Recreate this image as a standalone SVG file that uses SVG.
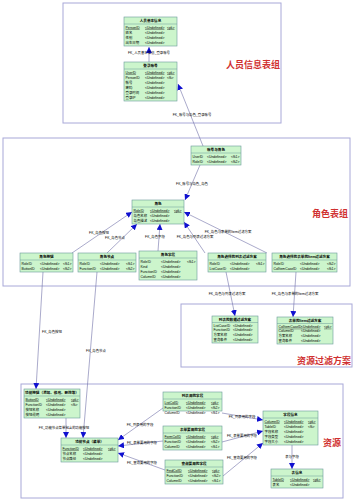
<svg xmlns="http://www.w3.org/2000/svg" width="357" height="500" viewBox="0 0 357 500">
<defs>
<style>
.frame{fill:#fff;stroke:#a8a8d8;stroke-width:1}
.box{fill:#ccf5cc;stroke:#6a9a9a;stroke-width:0.6}
.sep{stroke:#6a9a9a;stroke-width:0.5}
.t{font-family:"Liberation Sans","Noto Sans CJK SC",sans-serif;font-size:3.4px;fill:#000}
.h{font-family:"Liberation Sans","Noto Sans CJK SC",sans-serif;font-size:3.6px;font-weight:bold;fill:#000;text-anchor:middle}
.pk{text-decoration:underline}
.lbl{font-family:"Liberation Sans","Noto Sans CJK SC",sans-serif;font-size:3.4px;fill:#000;text-anchor:middle}
.grp{font-family:"Noto Sans CJK SC",sans-serif;font-size:9px;font-weight:bold;fill:#d03030}
.ln{stroke:#7070a8;stroke-width:0.6;fill:none;marker-end:url(#arr)}
</style>
<marker id="arr" viewBox="0 0 10 10" refX="10" refY="5" markerWidth="6" markerHeight="6" markerUnits="userSpaceOnUse" orient="auto">
<path d="M0,0 L10,5 L0,10 z" fill="#1010d0"/>
</marker>
</defs>
<rect width="357" height="500" fill="#fff"/>
<g id="frames">
<rect class="frame" x="63" y="3" width="218" height="120"/>
<rect class="frame" x="3" y="138" width="347" height="148"/>
<rect class="frame" x="181" y="304" width="171" height="63"/>
<rect class="frame" x="21" y="384" width="322" height="114"/>
<text class="grp" x="226" y="68">人员信息表组</text>
<text class="grp" x="312" y="217">角色表组</text>
<text class="grp" x="297" y="364">资源过滤方案</text>
<text class="grp" x="323" y="446">资源</text>
</g>
<g id="connectors">
<line class="ln" x1="149" y1="62" x2="149" y2="47"/>
<line class="ln" x1="203" y1="146" x2="178" y2="84"/>
<line class="ln" x1="200" y1="165" x2="185" y2="200"/>
<line class="ln" x1="72" y1="253" x2="132" y2="212"/>
<line class="ln" x1="107" y1="253" x2="137" y2="224"/>
<line class="ln" x1="158" y1="251" x2="160" y2="224"/>
<line class="ln" x1="205" y1="253" x2="184" y2="222"/>
<line class="ln" x1="267" y1="253" x2="184" y2="212"/>
<line class="ln" x1="43" y1="272" x2="36" y2="389"/>
<line class="ln" x1="97" y1="272" x2="83" y2="438"/>
<line class="ln" x1="226" y1="272" x2="235" y2="316"/>
<line class="ln" x1="296" y1="272" x2="293" y2="317"/>
<line class="ln" x1="66" y1="418" x2="66" y2="438"/>
<line class="ln" x1="163" y1="408" x2="118" y2="440"/>
<line class="ln" x1="163" y1="441" x2="118" y2="446"/>
<line class="ln" x1="165" y1="470" x2="118" y2="453"/>
<line class="ln" x1="222" y1="413" x2="263" y2="420"/>
<line class="ln" x1="222" y1="442" x2="263" y2="431"/>
<line class="ln" x1="223" y1="476" x2="263" y2="443"/>
<line class="ln" x1="292" y1="445" x2="292" y2="469"/>
<text class="lbl" x="149" y="54">FK_人员基本信息_登录账号</text>
<text class="lbl" x="192" y="116">FK_账号与角色_登录账号</text>
<text class="lbl" x="192" y="185">FK_账号与角色_角色</text>
<text class="lbl" x="99" y="234">FK_角色按钮</text>
<text class="lbl" x="115" y="239">FK_角色节点</text>
<text class="lbl" x="155" y="238">FK_角色字段</text>
<text class="lbl" x="195" y="238">FK_角色与列表过滤方案</text>
<text class="lbl" x="228" y="233">FK_角色与表单的Item过滤方案</text>
<text class="lbl" x="52" y="333">FK_角色按钮</text>
<text class="lbl" x="96" y="352">FK_角色节点</text>
<text class="lbl" x="227" y="295">FK_角色与列表过滤方案</text>
<text class="lbl" x="295" y="295">FK_角色与表单的Item过滤方案</text>
<text class="lbl" x="64" y="429">FK_功能节点菜单包含的功能按钮</text>
<text class="lbl" x="140" y="426">FK_列表用的字段</text>
<text class="lbl" x="142" y="444">FK_表单要用的字段</text>
<text class="lbl" x="142" y="464">FK_查询要用的字段</text>
<text class="lbl" x="242" y="418">FK_列表用的字段</text>
<text class="lbl" x="242" y="437">FK_表单要用的字段</text>
<text class="lbl" x="242" y="459">FK_查询要用的字段</text>
<text class="lbl" x="292" y="458">表与字段</text>
</g>
<g id="n-person">
<rect class="box" x="124" y="17" width="53" height="29"/><line class="sep" x1="124" y1="24" x2="177" y2="24"/>
<text class="h" x="150.5" y="22.3">人员基本信息</text>
<text class="t pk" x="125.5" y="28.5">PersonID</text><text class="t pk" x="145" y="28.5">&lt;Undefined&gt;</text><text class="t pk" x="167" y="28.5">&lt;pk&gt;</text>
<text class="t" x="125.5" y="33.5">姓名</text><text class="t" x="145" y="33.5">&lt;Undefined&gt;</text>
<text class="t" x="125.5" y="38.5">性别</text><text class="t" x="145" y="38.5">&lt;Undefined&gt;</text>
<text class="t" x="125.5" y="43.5">出生日期</text><text class="t" x="145" y="43.5">&lt;Undefined&gt;</text>
</g>
<g id="n-login">
<rect class="box" x="124" y="62" width="53" height="39"/><line class="sep" x1="124" y1="69" x2="177" y2="69"/>
<text class="h" x="150.5" y="67.3">登录账号</text>
<text class="t pk" x="125.5" y="73.5">UserID</text><text class="t pk" x="145" y="73.5">&lt;Undefined&gt;</text><text class="t pk" x="167" y="73.5">&lt;pk&gt;</text>
<text class="t" x="125.5" y="78.5">PersonID</text><text class="t" x="145" y="78.5">&lt;Undefined&gt;</text><text class="t" x="167" y="78.5">&lt;fk&gt;</text>
<text class="t" x="125.5" y="83.5">帐号</text><text class="t" x="145" y="83.5">&lt;Undefined&gt;</text>
<text class="t" x="125.5" y="88.5">密码</text><text class="t" x="145" y="88.5">&lt;Undefined&gt;</text>
<text class="t" x="125.5" y="93.5">登录时间</text><text class="t" x="145" y="93.5">&lt;Undefined&gt;</text>
<text class="t" x="125.5" y="98.5">登录IP</text><text class="t" x="145" y="98.5">&lt;Undefined&gt;</text>
</g>
<g id="n-userrole">
<rect class="box" x="191" y="146" width="50" height="19"/><line class="sep" x1="191" y1="153" x2="241" y2="153"/>
<text class="h" x="216" y="151.3">账号与角色</text>
<text class="t" x="192.5" y="157.5">UserID</text><text class="t" x="207" y="157.5">&lt;Undefined&gt;</text><text class="t" x="231" y="157.5">&lt;fk1&gt;</text>
<text class="t" x="192.5" y="162.5">RoleID</text><text class="t" x="207" y="162.5">&lt;Undefined&gt;</text><text class="t" x="231" y="162.5">&lt;fk2&gt;</text>
</g>
<g id="n-role">
<rect class="box" x="132" y="200" width="52" height="24"/><line class="sep" x1="132" y1="207" x2="184" y2="207"/>
<text class="h" x="158" y="205.3">角色</text>
<text class="t pk" x="133.5" y="211.5">RoleID</text><text class="t pk" x="150" y="211.5">&lt;Undefined&gt;</text><text class="t pk" x="174" y="211.5">&lt;pk&gt;</text>
<text class="t" x="133.5" y="216.5">角色名称</text><text class="t" x="150" y="216.5">&lt;Undefined&gt;</text>
<text class="t" x="133.5" y="221.5">角色描述</text><text class="t" x="150" y="221.5">&lt;Undefined&gt;</text>
</g>
<g id="n-rolebutton">
<rect class="box" x="20" y="253" width="53" height="19"/><line class="sep" x1="20" y1="260" x2="73" y2="260"/>
<text class="h" x="46.5" y="258.3">角色按钮</text>
<text class="t" x="21.5" y="264.5">RoleID</text><text class="t" x="40" y="264.5">&lt;Undefined&gt;</text><text class="t" x="63" y="264.5">&lt;fk1&gt;</text>
<text class="t" x="21.5" y="269.5">ButtonID</text><text class="t" x="40" y="269.5">&lt;Undefined&gt;</text><text class="t" x="63" y="269.5">&lt;fk2&gt;</text>
</g>
<g id="n-rolenode">
<rect class="box" x="78" y="253" width="58" height="19"/><line class="sep" x1="78" y1="260" x2="136" y2="260"/>
<text class="h" x="107" y="258.3">角色节点</text>
<text class="t" x="79.5" y="264.5">RoleID</text><text class="t" x="100" y="264.5">&lt;Undefined&gt;</text><text class="t" x="126" y="264.5">&lt;fk1&gt;</text>
<text class="t" x="79.5" y="269.5">FunctionID</text><text class="t" x="100" y="269.5">&lt;Undefined&gt;</text><text class="t" x="126" y="269.5">&lt;fk2&gt;</text>
</g>
<g id="n-rolefield">
<rect class="box" x="139" y="251" width="58" height="29"/><line class="sep" x1="139" y1="258" x2="197" y2="258"/>
<text class="h" x="168" y="256.3">角色字段</text>
<text class="t" x="140.5" y="262.5">RoleID</text><text class="t" x="161" y="262.5">&lt;Undefined&gt;</text><text class="t" x="187" y="262.5">&lt;fk1&gt;</text>
<text class="t" x="140.5" y="267.5">Kind</text><text class="t" x="161" y="267.5">&lt;Undefined&gt;</text>
<text class="t" x="140.5" y="272.5">FunctionID</text><text class="t" x="161" y="272.5">&lt;Undefined&gt;</text>
<text class="t" x="140.5" y="277.5">ColumnID</text><text class="t" x="161" y="277.5">&lt;Undefined&gt;</text>
</g>
<g id="n-rolelistcase">
<rect class="box" x="208" y="253" width="58" height="19"/><line class="sep" x1="208" y1="260" x2="266" y2="260"/>
<text class="h" x="237" y="258.3">角色选择的列表过滤方案</text>
<text class="t" x="209.5" y="264.5">RoleID</text><text class="t" x="230" y="264.5">&lt;Undefined&gt;</text><text class="t" x="256" y="264.5">&lt;fk1&gt;</text>
<text class="t" x="209.5" y="269.5">ListCaseID</text><text class="t" x="230" y="269.5">&lt;Undefined&gt;</text>
</g>
<g id="n-roleitemcase">
<rect class="box" x="272" y="253" width="65" height="19"/><line class="sep" x1="272" y1="260" x2="337" y2="260"/>
<text class="h" x="304.5" y="258.3">角色选择的表单的Item过滤方案</text>
<text class="t" x="273.5" y="264.5">RoleID</text><text class="t" x="300" y="264.5">&lt;Undefined&gt;</text><text class="t" x="327" y="264.5">&lt;fk2&gt;</text>
<text class="t" x="273.5" y="269.5">ColItemCaseID</text><text class="t" x="300" y="269.5">&lt;Undefined&gt;</text><text class="t" x="327" y="269.5">&lt;fk1&gt;</text>
</g>
<g id="n-listcase">
<rect class="box" x="212" y="316" width="46" height="27"/><line class="sep" x1="212" y1="322.5" x2="258" y2="322.5"/>
<text class="h" x="235" y="321">列表的数据过滤方案</text>
<text class="t" x="213.5" y="326.8">ListCaseID</text><text class="t" x="233" y="326.8">&lt;Undefined&gt;</text>
<text class="t" x="213.5" y="331.4">FunctionID</text><text class="t" x="233" y="331.4">&lt;Undefined&gt;</text>
<text class="t" x="213.5" y="336">方案名称</text><text class="t" x="233" y="336">&lt;Undefined&gt;</text>
<text class="t" x="213.5" y="340.6">查询条件</text><text class="t" x="233" y="340.6">&lt;Undefined&gt;</text>
</g>
<g id="n-itemcase">
<rect class="box" x="277" y="317" width="56" height="27"/><line class="sep" x1="277" y1="323.5" x2="333" y2="323.5"/>
<text class="h" x="305" y="322">表单的Item过滤方案</text>
<text class="t pk" x="278.5" y="327.8">ColItemCaseID</text><text class="t pk" x="301" y="327.8">&lt;Undefined&gt;</text><text class="t pk" x="324" y="327.8">&lt;pk&gt;</text>
<text class="t" x="278.5" y="332.4">ColumnID</text><text class="t" x="301" y="332.4">&lt;Undefined&gt;</text>
<text class="t" x="278.5" y="337">方案名称</text><text class="t" x="301" y="337">&lt;Undefined&gt;</text>
<text class="t" x="278.5" y="341.6">查询条件</text><text class="t" x="301" y="341.6">&lt;Undefined&gt;</text>
</g>
<g id="n-button">
<rect class="box" x="24" y="389" width="56" height="29"/><line class="sep" x1="24" y1="396" x2="80" y2="396"/>
<text class="h" x="52" y="394.3">功能按钮（添加、修改、删除等）</text>
<text class="t pk" x="25.5" y="400.5">ButtonID</text><text class="t pk" x="46" y="400.5">&lt;Undefined&gt;</text><text class="t pk" x="71" y="400.5">&lt;pk&gt;</text>
<text class="t" x="25.5" y="405.5">FunctionID</text><text class="t" x="46" y="405.5">&lt;Undefined&gt;</text><text class="t" x="71" y="405.5">&lt;fk&gt;</text>
<text class="t" x="25.5" y="410.5">按钮名称</text><text class="t" x="46" y="410.5">&lt;Undefined&gt;</text>
<text class="t" x="25.5" y="415.5">按钮说明</text><text class="t" x="46" y="415.5">&lt;Undefined&gt;</text>
</g>
<g id="n-function">
<rect class="box" x="61" y="438" width="57" height="24"/><line class="sep" x1="61" y1="445" x2="118" y2="445"/>
<text class="h" x="89.5" y="443.3">功能节点（菜单）</text>
<text class="t pk" x="62.5" y="449.5">FunctionID</text><text class="t pk" x="83" y="449.5">&lt;Undefined&gt;</text><text class="t pk" x="108" y="449.5">&lt;pk&gt;</text>
<text class="t" x="62.5" y="454.5">节点名称</text><text class="t" x="83" y="454.5">&lt;Undefined&gt;</text>
<text class="t" x="62.5" y="459.5">节点路径</text><text class="t" x="83" y="459.5">&lt;Undefined&gt;</text>
</g>
<g id="n-listcol">
<rect class="box" x="163" y="392" width="59" height="19"/><line class="sep" x1="163" y1="399" x2="222" y2="399"/>
<text class="h" x="192.5" y="397.3">列表用的字段</text>
<text class="t pk" x="164.5" y="403.5">ListColID</text><text class="t pk" x="186" y="403.5">&lt;Undefined&gt;</text><text class="t pk" x="211" y="403.5">&lt;pk&gt;</text>
<text class="t" x="164.5" y="408.5">FunctionID</text><text class="t" x="186" y="408.5">&lt;Undefined&gt;</text><text class="t" x="211" y="408.5">&lt;fk2&gt;</text>
<text class="t" x="164.5" y="413.5">ColumnID</text><text class="t" x="186" y="413.5">&lt;Undefined&gt;</text><text class="t" x="211" y="413.5">&lt;fk1&gt;</text>
</g>
<g id="n-formcol">
<rect class="box" x="163" y="426" width="59" height="24"/><line class="sep" x1="163" y1="433" x2="222" y2="433"/>
<text class="h" x="192.5" y="431.3">表单要用的字段</text>
<text class="t pk" x="164.5" y="437.5">FormColID</text><text class="t pk" x="186" y="437.5">&lt;Undefined&gt;</text><text class="t pk" x="211" y="437.5">&lt;pk&gt;</text>
<text class="t" x="164.5" y="442.5">FunctionID</text><text class="t" x="186" y="442.5">&lt;Undefined&gt;</text><text class="t" x="211" y="442.5">&lt;fk2&gt;</text>
<text class="t" x="164.5" y="447.5">ColumnID</text><text class="t" x="186" y="447.5">&lt;Undefined&gt;</text><text class="t" x="211" y="447.5">&lt;fk1&gt;</text>
</g>
<g id="n-findcol">
<rect class="box" x="165" y="460" width="58" height="24"/><line class="sep" x1="165" y1="467" x2="223" y2="467"/>
<text class="h" x="194" y="465.3">查询要用的字段</text>
<text class="t pk" x="166.5" y="471.5">FindColID</text><text class="t pk" x="188" y="471.5">&lt;Undefined&gt;</text><text class="t pk" x="212" y="471.5">&lt;pk&gt;</text>
<text class="t" x="166.5" y="476.5">FunctionID</text><text class="t" x="188" y="476.5">&lt;Undefined&gt;</text><text class="t" x="212" y="476.5">&lt;fk2&gt;</text>
<text class="t" x="166.5" y="481.5">ColumnID</text><text class="t" x="188" y="481.5">&lt;Undefined&gt;</text><text class="t" x="212" y="481.5">&lt;fk1&gt;</text>
</g>
<g id="n-column">
<rect class="box" x="263" y="411" width="55" height="34"/><line class="sep" x1="263" y1="418" x2="318" y2="418"/>
<text class="h" x="290.5" y="416.3">字段信息</text>
<text class="t pk" x="264.5" y="422.5">ColumnID</text><text class="t pk" x="284" y="422.5">&lt;Undefined&gt;</text><text class="t pk" x="308" y="422.5">&lt;pk&gt;</text>
<text class="t" x="264.5" y="427.5">TableID</text><text class="t" x="284" y="427.5">&lt;Undefined&gt;</text><text class="t" x="308" y="427.5">&lt;fk&gt;</text>
<text class="t" x="264.5" y="432.5">字段名称</text><text class="t" x="284" y="432.5">&lt;Undefined&gt;</text>
<text class="t" x="264.5" y="437.5">字段类型</text><text class="t" x="284" y="437.5">&lt;Undefined&gt;</text>
<text class="t" x="264.5" y="442.5">字段大小</text><text class="t" x="284" y="442.5">&lt;Undefined&gt;</text>
</g>
<g id="n-table">
<rect class="box" x="271" y="469" width="52" height="19"/><line class="sep" x1="271" y1="476" x2="323" y2="476"/>
<text class="h" x="297" y="474.3">表信息</text>
<text class="t pk" x="272.5" y="480.5">TableID</text><text class="t pk" x="290" y="480.5">&lt;Undefined&gt;</text><text class="t pk" x="313" y="480.5">&lt;pk&gt;</text>
<text class="t" x="272.5" y="485.5">表名</text><text class="t" x="290" y="485.5">&lt;Undefined&gt;</text>
</g>
</svg>
